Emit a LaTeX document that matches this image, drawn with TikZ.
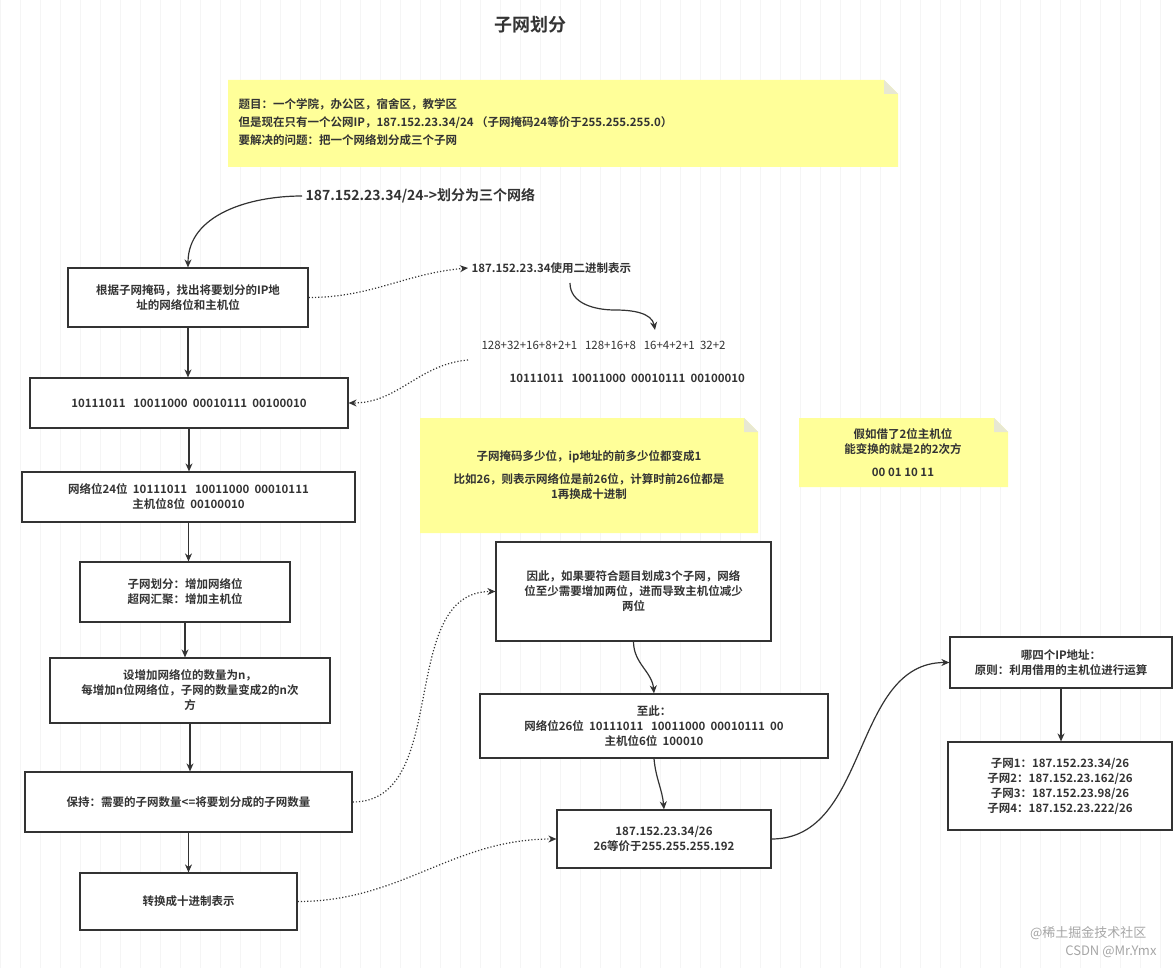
\documentclass[tikz,border=0pt]{standalone}
\usepackage{fontspec}
\newfontfamily\cjk{Noto Sans CJK SC}[BoldFont={Noto Sans CJK SC Bold}]
\usetikzlibrary{arrows.meta}
\definecolor{note}{HTML}{FFFF99}
\definecolor{txt}{HTML}{333333}
\begin{document}
\begin{tikzpicture}[x=1pt,y=-1pt,
  every node/.style={font=\cjk\bfseries\fontsize{11.5}{15}\selectfont,text=txt,align=center},
  box/.style={draw=txt,line width=1.2pt,fill=white},
  ar/.style={-{Stealth[length=8pt,width=7pt]},line width=1.2pt,draw=txt},
  dar/.style={-{Stealth[length=8pt,width=7pt]},line width=1.2pt,draw=txt,dotted},
  notebox/.style={fill=note}]
\useasboundingbox (0,0) rectangle (1173,968);
\fill[white] (0,0) rectangle (1173,968);
\draw[gray!8,step=20] (0,0) grid (1173,968);
\node (title) at (530,25) {\fontsize{18}{20}\selectfont 子网划分};
% note 1
\fill[note] (228,80) -- (884,80) -- (898,94) -- (898,167) -- (228,167) -- cycle;
\fill[note!70!black!30] (884,80) -- (884,94) -- (898,94) -- cycle;
\node[anchor=west,align=left] (n1) at (235,122) {题目：一个学院，办公区，宿舍区，教学区\\[3pt]但是现在只有一个公网IP，187.152.23.34/24 （子网掩码24等价于255.255.255.0）\\[3pt]要解决的问题：把一个网络划分成三个子网};
\node[anchor=west] (head) at (302,196) {\fontsize{14}{16}\selectfont 187.152.23.34/24->划分为三个网络};
% left column
\node[box,minimum width=240,minimum height=59] (b1) at (188,297.5) {根据子网掩码，找出将要划分的IP地\\址的网络位和主机位};
\node[box,minimum width=318,minimum height=50] (b2) at (189,403) {10111011 \ \ 10011000 \ 00010111 \ 00100010};
\node[box,minimum width=333,minimum height=50] (b3) at (188.5,497) {网络位24位 \ 10111011 \ \ 10011000 \ 00010111\\主机位8位 \ 00100010};
\node[box,minimum width=210,minimum height=60] (b4) at (185,592) {子网划分：增加网络位\\超网汇聚：增加主机位};
\node[box,minimum width=280,minimum height=65] (b5) at (190,690.5) {设增加网络位的数量为n，\\每增加n位网络位，子网的数量变成2的n次\\方};
\node[box,minimum width=327,minimum height=60] (b6) at (188.5,802) {保持：需要的子网数量<=将要划分成的子网数量};
\node[box,minimum width=217,minimum height=57] (b7) at (188.5,901.5) {转换成十进制表示};
\draw[ar] (head.west) to[out=180,in=90] (b1.north);
\foreach \a/\b in {b1/b2,b2/b3,b3/b4,b4/b5,b5/b6,b6/b7} \draw[ar] (\a.south) -- (\a.south|-\b.north);
% binary
\node[anchor=west] (bin) at (468,268) {187.152.23.34使用二进制表示};
\draw[dar] (b1.east) to[out=0,in=185] (bin.west);
\coordinate (c1) at (570,283);
\coordinate (c2) at (655,330);
\draw[ar] (c1) to[out=-90,in=180] (615,310) to[out=0,in=100] (c2);
\node[anchor=west] (sum) at (478,345) {\mdseries 128+32+16+8+2+1 \ \ 128+16+8 \ \ 16+4+2+1 \ 32+2};
\node[anchor=west] (binv) at (506,378) {10111011 \ \ 10011000 \ 00010111 \ 00100010};
\coordinate (c3) at (468,360);
\draw[dar] (c3) to[out=185,in=0] (b2.east);
% notes 2,3
\fill[note] (420,418) -- (744,418) -- (758,432) -- (758,533) -- (420,533) -- cycle;
\fill[note!70!black!30] (744,418) -- (744,432) -- (758,432) -- cycle;
\node (n2) at (589,475) {子网掩码多少位，ip地址的前多少位都变成1\\[8pt]比如26，则表示网络位是前26位，计算时前26位都是\\1再换成十进制};
\fill[note] (799,418) -- (994,418) -- (1008,432) -- (1008,487) -- (799,487) -- cycle;
\fill[note!70!black!30] (994,418) -- (994,432) -- (1008,432) -- cycle;
\node (n3) at (903,453) {假如借了2位主机位\\能变换的就是2的2次方\\[8pt]00 01 10 11};
% right flow
\node[box,minimum width=275,minimum height=99] (b8) at (633.5,591.5) {因此，如果要符合题目划成3个子网，网络\\位至少需要增加两位，进而导致主机位减少\\两位};
\node[box,minimum width=348,minimum height=64] (b9) at (654,726) {至此：\\网络位26位 \ 10111011 \ \ 10011000 \ 00010111 \ 00\\主机位6位 \ 100010};
\node[box,minimum width=214,minimum height=58] (b10) at (664,839) {187.152.23.34/26\\26等价于255.255.255.192};
\node[box,minimum width=222,minimum height=51] (b11) at (1061,662.5) {哪四个IP地址：\\原则：利用借用的主机位进行运算};
\node[box,minimum width=224,minimum height=88] (b12) at (1060,786) {子网1：187.152.23.34/26\\子网2：187.152.23.162/26\\子网3：187.152.23.98/26\\子网4：187.152.23.222/26};
\draw[dar] (b6.east) to[out=0,in=180] (b8.west);
\draw[ar] (b8.south) to[out=-90,in=95] (b9.north);
\draw[ar] (b9.south) to[out=-85,in=95] (b10.north);
\draw[dar] (b7.east) to[out=0,in=180] (b10.west);
\draw[ar] (b10.east) to[out=0,in=180] (b11.west);
\draw[ar] (b11.south) -- (b11.south|-b12.north);
\node[anchor=east,text=gray!70] (w1) at (1150,933) {\mdseries\fontsize{13}{15}\selectfont @稀土掘金技术社区};
\node[anchor=east,text=gray!70] (w2) at (1160,952) {\mdseries\fontsize{13}{15}\selectfont CSDN @Mr.Ymx};
\end{tikzpicture}
\end{document}
